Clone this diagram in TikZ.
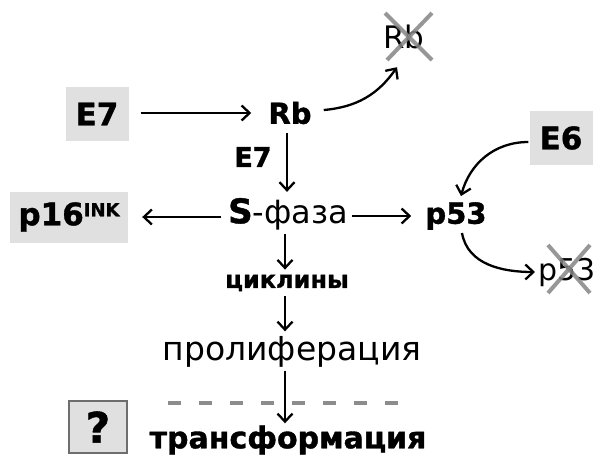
\documentclass[tikz,border=0pt]{standalone}
\usepackage{fontspec}
\setmainfont{DejaVu Sans}[BoldFeatures={FakeBold=1.2}]
\usetikzlibrary{arrows.meta,calc}
\definecolor{boxgray}{HTML}{E0E0E0}
\definecolor{crossgray}{HTML}{858585}
\definecolor{dashgray}{HTML}{8C8C8C}
\definecolor{qborder}{HTML}{6E6E6E}
\begin{document}
\begin{tikzpicture}[x=1pt,y=1pt,
  arr/.style={line width=2.3pt,-{Straight Barb[length=8pt,width=15pt,line width=2.3pt]}},
  gbox/.style={fill=boxgray,inner sep=0pt,minimum width=63pt,minimum height=54pt,font=\fontsize{31}{31}\selectfont\bfseries},
  btext/.style={inner sep=0pt,font=\fontsize{29}{29}\selectfont\bfseries},
  rtext/.style={inner sep=0pt,font=\fontsize{30}{30}\selectfont},
  xline/.style={draw=crossgray,line width=4pt,opacity=0.85}
]
\useasboundingbox (0,0) rectangle (598,-456);
% nodes
\node[gbox] (e7) at (97,-114) {E7};
\node[btext] (rb) at (290,-113) {Rb};
\node[rtext,font=\fontsize{31}{31}\selectfont] (rbx) at (404,-37) {Rb};
\node[btext,font=\fontsize{27}{27}\selectfont\bfseries] (e7l) at (253,-157) {E7};
\node[gbox] (e6) at (561,-138) {E6};
\node[gbox,minimum width=118pt,minimum height=51pt,font=\fontsize{31}{31}\selectfont\bfseries] (p16) at (69,-217)
  {p16\raisebox{9pt}{\fontsize{18}{18}\selectfont INK}};
\node[rtext,font=\fontsize{32}{32}\selectfont] (sph) at (288,-214) {{\fontsize{34}{34}\selectfont\bfseries S}-фаза};
\node[btext] (p53) at (456,-216) {p53};
\node[rtext,anchor=base west] (p53x) at (538,-280) {p53};
\node[btext,font=\fontsize{24}{24}\selectfont\bfseries] (cyc) at (287,-283) {циклины};
\node[rtext,font=\fontsize{33}{33}\selectfont] (pro) at (292,-352) {пролиферация};
\node[btext,font=\fontsize{30}{30}\selectfont\bfseries] (tr) at (288,-440) {трансформация};
\node[draw=qborder,line width=2pt,fill=boxgray,inner sep=0pt,minimum width=58pt,minimum height=52pt,font=\fontsize{42}{42}\selectfont\bfseries] (q) at (98,-427) {?};
\coordinate (dl) at (168,-403);
\coordinate (dr) at (405,-403);
% dashed line
\draw[dashgray,line width=4pt,dash pattern=on 13pt off 18pt] (dl) -- (dr);
% arrows
\draw[arr,shorten <=12pt,shorten >=17pt] (e7.east |- rb.west) -- (rb.west);
\draw[arr,shorten <=9pt,shorten >=6pt] ([xshift=-3pt]rb.south) -- ([xshift=-3pt]rb.south |- sph.north);
\draw[arr] (rb.east) ++(12,3) to[out=5,in=-125] ($(rbx.south)+(-7,-18)$);
\draw[arr,shorten <=7pt,shorten >=14pt] (p16.east -| sph.west) -- (p16.east);
\draw[arr,shorten <=4pt,shorten >=14pt] (sph.east |- p53.west) -- (p53.west);
\draw[arr] (e6.west) ++(-1,-4) to[out=180,in=75] ([xshift=5pt,yshift=6pt]p53.north);
\draw[arr] ([xshift=6pt,yshift=-3pt]p53.south) to[out=-80,in=180] ([xshift=-3pt]p53x.west);
\draw[arr,shorten <=4pt,shorten >=5pt] ([xshift=-3pt]sph.south) -- ([xshift=-3pt]sph.south |- cyc.north);
\draw[arr,shorten <=5pt,shorten >=5pt] ([xshift=-2pt]cyc.south) -- ([xshift=-2pt]cyc.south |- pro.north);
\draw[arr,shorten <=3pt,shorten >=2pt] ([xshift=-7pt]pro.south) -- ([xshift=-7pt]pro.south |- tr.north);
% crosses
\draw[xline] ($(rbx.center)+(-19,24)$) -- ($(rbx.center)+(28,-23)$);
\draw[xline] ($(rbx.center)+(28,24)$) -- ($(rbx.center)+(-17,-23)$);
\draw[xline] (548,-245) -- (590,-293);
\draw[xline] (590,-245) -- (548,-293);
\end{tikzpicture}
\end{document}
